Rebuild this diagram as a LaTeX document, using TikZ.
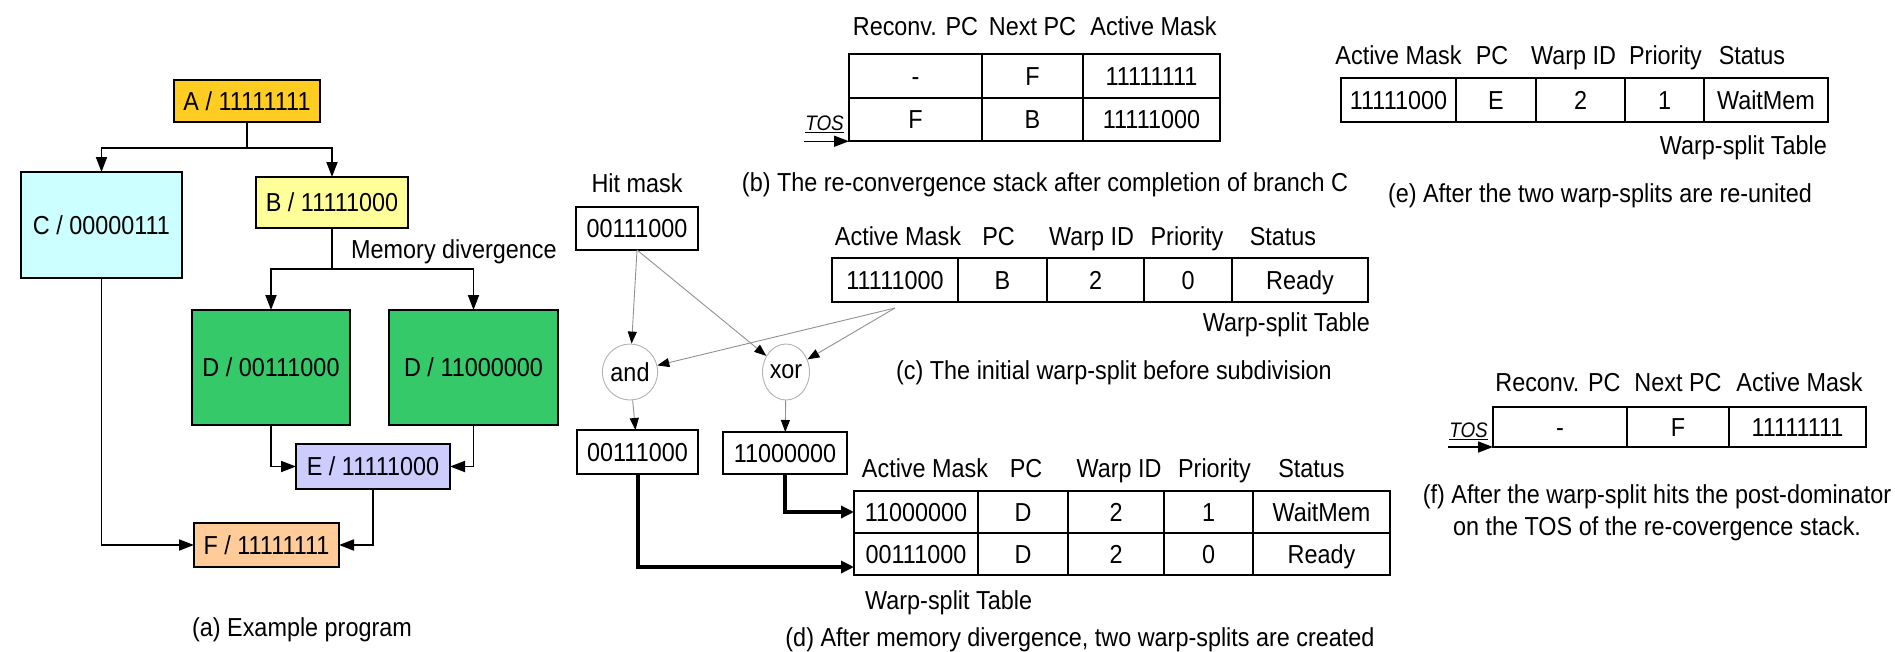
\documentclass[tikz,border=0pt]{standalone}
\usepackage{fontspec}
\setmainfont{Liberation Sans}[FakeStretch=0.9]
\usetikzlibrary{positioning,arrows.meta,shapes.geometric}

\definecolor{colA}{RGB}{255,204,34}
\definecolor{colB}{RGB}{255,255,153}
\definecolor{colC}{RGB}{204,255,255}
\definecolor{colD}{RGB}{54,201,106}
\definecolor{colE}{RGB}{204,204,255}
\definecolor{colF}{RGB}{255,204,153}

\begin{document}
\begin{tikzpicture}[x=1pt,y=-1pt,
  font=\fontsize{26}{30}\selectfont,
  blk/.style={draw,line width=1.8pt,inner sep=0pt,outer sep=0pt},
  cell/.style={blk,text height=18.5pt,text depth=0pt},
  hdr/.style={inner sep=0pt,text height=18.5pt,text depth=0pt},
  tos/.style={inner sep=1pt,font=\fontsize{21}{23}\selectfont\itshape},
  op/.style={ellipse,draw=gray!60,line width=0.9pt,minimum width=47pt,minimum height=56pt,inner sep=0pt},
  arr/.style={line width=1.8pt,-{Triangle[length=15pt,width=11pt]}},
  thk/.style={line width=4pt,-{Triangle[length=13pt,width=12pt]}},
  gline/.style={draw=gray!55!black!60,line width=0.9pt,-{Triangle[length=12pt,width=9pt,color=black]}}]
\useasboundingbox (0,0) rectangle (1895,651);

% (a) example program
\node[blk,fill=colA,minimum width=146pt,minimum height=42pt] (A) at (247,101) {A / 11111111};
\node[blk,fill=colC,minimum width=161pt,minimum height=106pt] (C) at (101.5,225) {C / 00000111};
\node[blk,fill=colB,minimum width=152pt,minimum height=51pt] (B) at (332,202.5) {B / 11111000};
\node[blk,fill=colD,minimum width=158pt,minimum height=115pt] (D1) at (271,367.5) {D / 00111000};
\node[blk,fill=colD,minimum width=169pt,minimum height=115pt] (D2) at (473.5,367.5) {D / 11000000};
\node[blk,fill=colE,minimum width=154pt,minimum height=45pt] (E) at (373,466.5) {E / 11111000};
\node[blk,fill=colF,minimum width=145pt,minimum height=44pt] (F) at (266.5,545) {F / 11111111};
\node[hdr,anchor=west] (memdiv) at (351,249) {Memory divergence};
\draw[arr] (A.south) -- ++(0,26) -| (C.north);
\draw[arr] (A.south) -- ++(0,26) -| (B.north);
\draw[arr] (B.south) -- ++(0,41) -| (D1.north);
\draw[arr] (B.south) -- ++(0,41) -| (D2.north);
\draw[arr] (D1.south) |- (E.west);
\draw[arr] (D2.south) |- (E.east);
\draw[arr] (C.south) |- (F.west);
\draw[arr] (E.south) |- (F.east);
\node[hdr] (capa) at (302,627) {(a) Example program};

% (b) stack after branch C
\node[cell,minimum width=133pt,minimum height=43.5pt] (b11) at (915.5,76) {-};
\node[cell,minimum width=101pt,minimum height=43.5pt,right=0pt of b11] (b12) {F};
\node[cell,minimum width=137pt,minimum height=43.5pt,right=0pt of b12] (b13) {11111111};
\node[cell,minimum width=133pt,minimum height=43.5pt,below=0pt of b11] (b21) {F};
\node[cell,minimum width=101pt,minimum height=43.5pt,right=0pt of b21] (b22) {B};
\node[cell,minimum width=137pt,minimum height=43.5pt,right=0pt of b22] (b23) {11111000};
\node[hdr,above=18.25pt of b11] (hb1) {Reconv. PC};
\node[hdr,above=18.25pt of b12] (hb2) {Next PC};
\node[hdr,above=18.25pt of b13,xshift=2pt] (hb3) {Active Mask};
\node[tos,anchor=south east] (tosb) at ([xshift=-4pt,yshift=7pt]b21.south west) {\underline{TOS}};
\coordinate (tosbs) at (tosb.south west |- b21.south);
\draw[arr,line width=1.5pt] (tosbs) -- (b21.south west);
\node[hdr] (capb) at (1045,182) {(b) The re-convergence stack after completion of branch C};

% hit mask and split logic
\node[hdr] (hitlbl) at (637,183) {Hit mask};
\node[cell,minimum width=122pt,minimum height=43pt] (hit) at (637,228.5) {00111000};
\node[op] (andop) at (630,372) {and};
\node[op] (xorop) at (786,372) {xor};
\node[cell,minimum width=121pt,minimum height=44pt] (andres) at (637.5,452) {00111000};
\node[cell,minimum width=124pt,minimum height=42pt] (xorres) at (785,453) {11000000};

% (c) initial warp-split
\node[cell,minimum width=126pt,minimum height=44pt] (c1) at (895,280) {11111000};
\node[cell,minimum width=89pt,minimum height=44pt,right=0pt of c1] (c2) {B};
\node[cell,minimum width=97pt,minimum height=44pt,right=0pt of c2] (c3) {2};
\node[cell,minimum width=88pt,minimum height=44pt,right=0pt of c3] (c4) {0};
\node[cell,minimum width=136pt,minimum height=44pt,right=0pt of c4] (c5) {Ready};
\node[hdr,above=12.75pt of c1,xshift=3pt] (hc1) {Active Mask};
\node[hdr,above=12.75pt of c2,xshift=-4pt] (hc2) {PC};
\node[hdr,above=12.75pt of c3,xshift=-4pt] (hc3) {Warp ID};
\node[hdr,above=12.75pt of c4,xshift=-1pt] (hc4) {Priority};
\node[hdr,above=12.75pt of c5,xshift=-17pt] (hc5) {Status};
\node[hdr,below left=10.75pt and -2pt of c5.south east] (wstc) {Warp-split Table};
\node[hdr] (capc) at (1114,370) {(c) The initial warp-split before subdivision};

\coordinate (csrc) at ([yshift=-6pt]c1.south);
\draw[gline] (hit.south) -- (andop);
\draw[gline] (hit.south) -- (xorop);
\draw[gline] (csrc) -- (andop);
\draw[gline] (csrc) -- (xorop);
\draw[gline] (andop) -- (andres);
\draw[gline] (xorop) -- (xorres);

% (d) after memory divergence
\node[cell,minimum width=124pt,minimum height=42pt] (d11) at (916,512) {11000000};
\node[cell,minimum width=90pt,minimum height=42pt,right=0pt of d11] (d12) {D};
\node[cell,minimum width=96pt,minimum height=42pt,right=0pt of d12] (d13) {2};
\node[cell,minimum width=89pt,minimum height=42pt,right=0pt of d13] (d14) {1};
\node[cell,minimum width=137pt,minimum height=42pt,right=0pt of d14] (d15) {WaitMem};
\node[cell,minimum width=124pt,minimum height=42pt,below=0pt of d11] (d21) {00111000};
\node[cell,minimum width=90pt,minimum height=42pt,right=0pt of d21] (d22) {D};
\node[cell,minimum width=96pt,minimum height=42pt,right=0pt of d22] (d23) {2};
\node[cell,minimum width=89pt,minimum height=42pt,right=0pt of d23] (d24) {0};
\node[cell,minimum width=137pt,minimum height=42pt,right=0pt of d24] (d25) {Ready};
\node[hdr,above=13.75pt of d11,xshift=9pt] (hd1) {Active Mask};
\node[hdr,above=13.75pt of d12,xshift=3pt] (hd2) {PC};
\node[hdr,above=13.75pt of d13,xshift=3pt] (hd3) {Warp ID};
\node[hdr,above=13.75pt of d14,xshift=6pt] (hd4) {Priority};
\node[hdr,above=13.75pt of d15,xshift=-10pt] (hd5) {Status};
\node[hdr,below right=15.75pt and 11pt of d21.south west] (wstd) {Warp-split Table};
\node[hdr] (capd) at (1080,637) {(d) After memory divergence, two warp-splits are created};
\coordinate (din) at ([yshift=-13pt]d21.west);
\draw[thk] (xorres.south) |- (d11.west);
\draw[thk] (andres.south) |- (din);

% (e) re-united
\node[cell,minimum width=115pt,minimum height=44pt] (e1) at (1398.5,100) {11111000};
\node[cell,minimum width=80pt,minimum height=44pt,right=0pt of e1] (e2) {E};
\node[cell,minimum width=89pt,minimum height=44pt,right=0pt of e2] (e3) {2};
\node[cell,minimum width=79pt,minimum height=44pt,right=0pt of e3] (e4) {1};
\node[cell,minimum width=124pt,minimum height=44pt,right=0pt of e4] (e5) {WaitMem};
\node[hdr,above=13.75pt of e1] (he1) {Active Mask};
\node[hdr,above=13.75pt of e2,xshift=-4pt] (he2) {PC};
\node[hdr,above=13.75pt of e3,xshift=-7pt] (he3) {Warp ID};
\node[hdr,above=13.75pt of e4,xshift=1pt] (he4) {Priority};
\node[hdr,above=13.75pt of e5,xshift=-14pt] (he5) {Status};
\node[hdr,below left=13.75pt and 1pt of e5.south east] (wste) {Warp-split Table};
\node[hdr] (cape) at (1600,193) {(e) After the two warp-splits are re-united};

% (f) post-dominator reached
\node[cell,minimum width=134pt,minimum height=40pt] (f1) at (1560,427) {-};
\node[cell,minimum width=102pt,minimum height=40pt,right=0pt of f1] (f2) {F};
\node[cell,minimum width=137pt,minimum height=40pt,right=0pt of f2] (f3) {11111111};
\node[hdr,above=15.75pt of f1,xshift=-2pt] (hf1) {Reconv. PC};
\node[hdr,above=15.75pt of f2] (hf2) {Next PC};
\node[hdr,above=15.75pt of f3,xshift=2pt] (hf3) {Active Mask};
\node[tos,anchor=south east] (tosf) at ([xshift=-4pt,yshift=6pt]f1.south west) {\underline{TOS}};
\coordinate (tosfs) at (tosf.south west |- f1.south);
\draw[arr,line width=1.5pt] (tosfs) -- (f1.south west);
\node[inner sep=0pt,align=center,font=\fontsize{26}{32}\selectfont] (capf) at (1657,513)
  {(f) After the warp-split hits the post-dominator\\on the TOS of the re-covergence stack.};
\end{tikzpicture}
\end{document}
